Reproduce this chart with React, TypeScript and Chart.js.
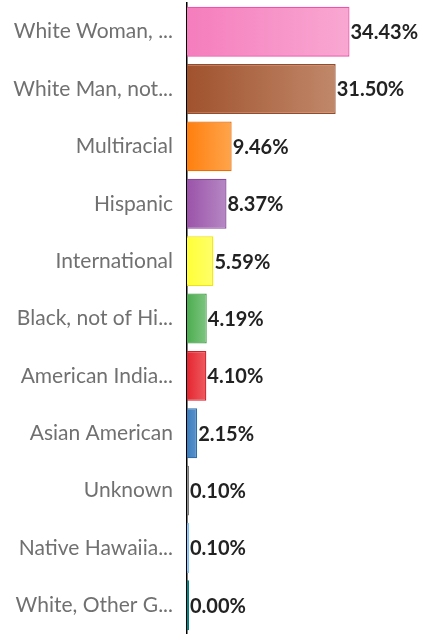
import React, { useEffect, useRef } from "react";
import { Chart, registerables } from "chart.js";

Chart.register(...registerables);

const categories = [
  "White Woman, ...",
  "White Man, not...",
  "Multiracial",
  "Hispanic",
  "International",
  "Black, not of Hi...",
  "American India...",
  "Asian American",
  "Unknown",
  "Native Hawaiia...",
  "White, Other G...",
];

const percentages = [34.43, 31.5, 9.46, 8.37, 5.59, 4.19, 4.1, 2.15, 0.1, 0.1, 0.0];

const startColors = [
  "#f57dbd", "#a0522d", "#ff7f0e", "#9b53a9", "#ffff38", "#4cad50",
  "#e52630", "#3d7dbe", "#8a8a8a", "#8cc6ff", "#008b8b",
];
const endColors = [
  "#f9a8d2", "#c0886a", "#ffa54c", "#b688c4", "#ffff6a", "#7ec581",
  "#ee5c62", "#5a93cc", "#9a9a9a", "#9ccfff", "#008b8b",
];
const borderColors = [
  "#ee52a9", "#9a4a26", "#e8700c", "#8a4a9c", "#f2e500", "#45a048",
  "#d0202a", "#2f6ea8", "#777777", "#7cbcf5", "#007a7a",
];

const xMax = 50;

const dataLabelPlugin = {
  id: "dataLabels",
  afterDatasetsDraw(chart: any) {
    const ctx = chart.ctx;
    const meta = chart.getDatasetMeta(0);
    ctx.save();
    ctx.font = "bold 20px Lato";
    ctx.fillStyle = "#222222";
    ctx.textAlign = "left";
    ctx.textBaseline = "middle";
    meta.data.forEach((el: any, i: number) => {
      const v = percentages[i];
      ctx.fillText(v.toFixed(2) + "%", el.x + 1, el.y + 1);
    });
    ctx.restore();
  },
};

export default function App() {
  const canvasRef = useRef<HTMLCanvasElement | null>(null);

  useEffect(() => {
    if (!canvasRef.current) return;
    const chart = new Chart(canvasRef.current, {
      type: "bar",
      data: {
        labels: categories,
        datasets: [
          {
            data: percentages,
            backgroundColor: (c: any) => {
              const ch = c.chart;
              const i = c.dataIndex;
              if (!ch.chartArea || !ch.scales.x || i === undefined) return startColors[i ?? 0];
              const xs = ch.scales.x;
              const x0 = xs.getPixelForValue(0);
              let x1 = xs.getPixelForValue(percentages[i]);
              if (x1 - x0 < 2) x1 = x0 + 2;
              const g = ch.ctx.createLinearGradient(x0, 0, x1, 0);
              g.addColorStop(0, startColors[i]);
              g.addColorStop(1, endColors[i]);
              return g;
            },
            borderColor: borderColors,
            borderWidth: 1.3,
            minBarLength: 2,
            categoryPercentage: 1,
            barPercentage: 0.87,
          },
        ],
      },
      options: {
        indexAxis: "y",
        animation: false,
        responsive: true,
        maintainAspectRatio: false,
        layout: { padding: { top: 3, left: 0, right: 0, bottom: 0 } },
        plugins: {
          legend: { display: false },
          tooltip: { enabled: false },
        },
        scales: {
          x: { display: false, min: 0, max: xMax },
          y: {
            grid: { display: false, drawTicks: false },
            border: { display: true, color: "#000000", width: 1.5 },
            ticks: {
              color: "#707070",
              font: { family: "Lato", size: 21 },
              padding: 14,
              autoSkip: false,
            },
            afterFit: (scale: any) => {
              scale.width = 187;
              scale.paddingTop = 0;
              scale.paddingBottom = 0;
            },
          },
        },
      },
      plugins: [dataLabelPlugin],
    });
    return () => chart.destroy();
  }, []);

  return (
    <div style={{ position: "fixed", left: 0, top: 0, width: 423, height: 634, background: "#fff" }}>
      <canvas ref={canvasRef} />
    </div>
  );
}
